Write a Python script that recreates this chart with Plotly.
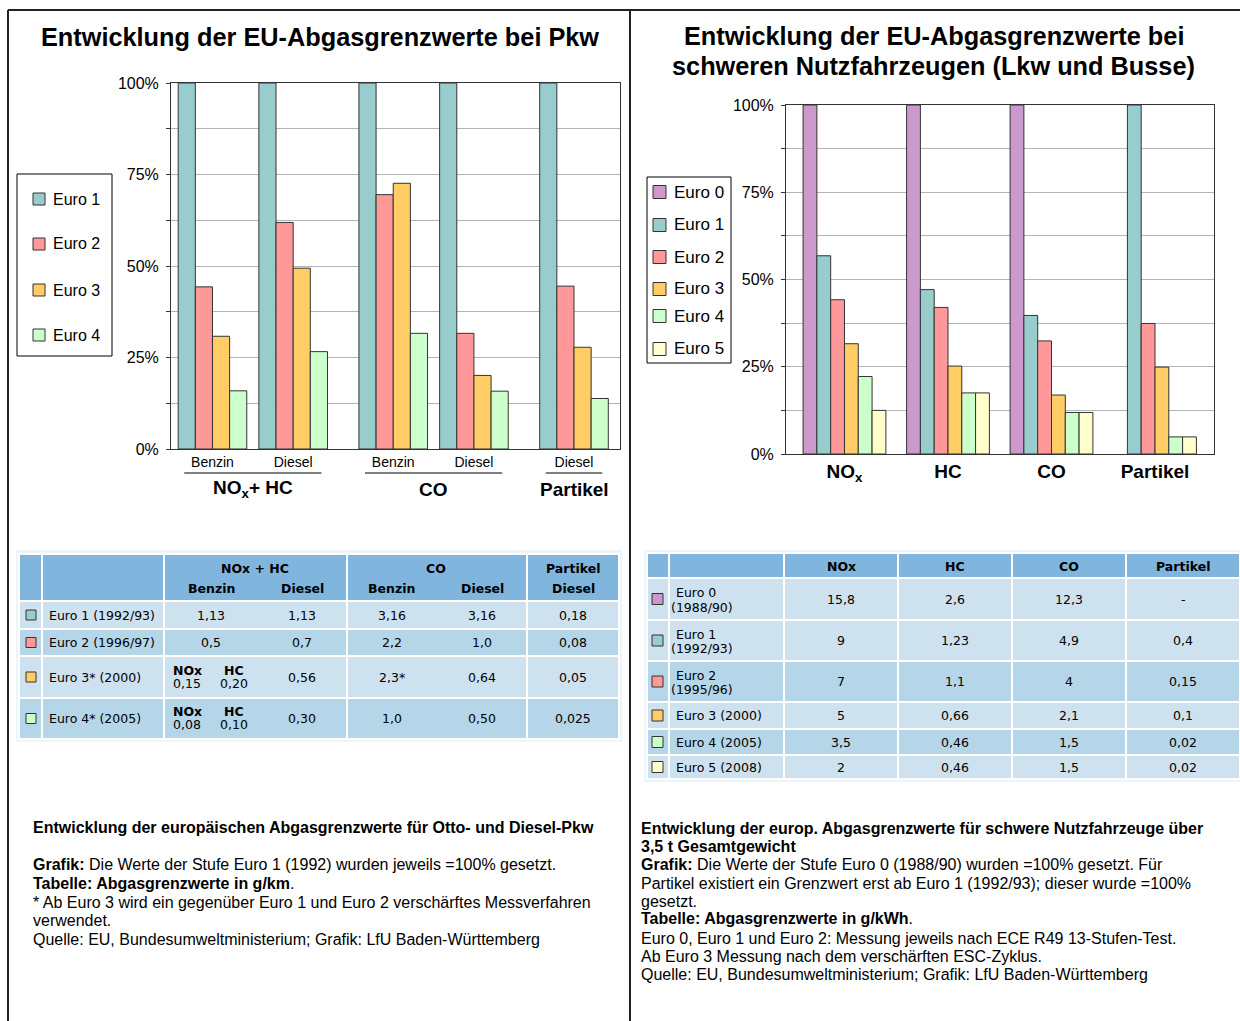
import plotly.graph_objects as go

W, H = 1240, 1021

# Pkw chart: limits in % of Euro 1
pkw_pollutants = ["NOx + HC", "NOx + HC", "CO", "CO", "Partikel"]
pkw_fuels = ["Benzin", "Diesel", "Benzin", "Diesel", "Diesel"]
pkw_group_labels = ["NO<sub>x</sub>+ HC", "CO", "Partikel"]
pkw_euro1 = [100, 100, 100, 100, 100]
pkw_euro2 = [44.3, 61.9, 69.5, 31.6, 44.5]
pkw_euro3 = [30.8, 49.4, 72.6, 20.1, 27.8]
pkw_euro4 = [15.9, 26.6, 31.6, 15.8, 13.8]

# Lkw chart: limits in % of Euro 0 (Partikel: of Euro 1)
lkw_pollutants = ["NOx", "HC", "CO", "Partikel"]
lkw_tick_labels = ["NO<sub>x</sub>", "HC", "CO", "Partikel"]
lkw_euro0 = [100, 100, 100, None]
lkw_euro1 = [56.8, 47.1, 39.7, 100]
lkw_euro2 = [44.2, 42.0, 32.4, 37.4]
lkw_euro3 = [31.6, 25.2, 16.9, 24.9]
lkw_euro4 = [22.2, 17.5, 11.9, 4.9]
lkw_euro5 = [12.5, 17.5, 11.9, 4.9]

# Pkw table (g/km)
pkw_tab_rows = ["Euro 1 (1992/93)", "Euro 2 (1996/97)", "Euro 3* (2000)", "Euro 4* (2005)"]
pkw_tab_stage = ["Euro 1", "Euro 2", "Euro 3", "Euro 4"]
pkw_tab_noxhc_benzin = ["1,13", "0,5", "", ""]
pkw_tab_nox_benzin = ["", "", "0,15", "0,08"]
pkw_tab_hc_benzin = ["", "", "0,20", "0,10"]
pkw_tab_noxhc_diesel = ["1,13", "0,7", "0,56", "0,30"]
pkw_tab_co_benzin = ["3,16", "2,2", "2,3*", "1,0"]
pkw_tab_co_diesel = ["3,16", "1,0", "0,64", "0,50"]
pkw_tab_pm_diesel = ["0,18", "0,08", "0,05", "0,025"]

# Lkw table (g/kWh)
lkw_tab_stage = ["Euro 0", "Euro 1", "Euro 2", "Euro 3", "Euro 4", "Euro 5"]
lkw_tab_years = ["(1988/90)", "(1992/93)", "(1995/96)", "(2000)", "(2005)", "(2008)"]
lkw_tab_nox = ["15,8", "9", "7", "5", "3,5", "2"]
lkw_tab_hc = ["2,6", "1,23", "1,1", "0,66", "0,46", "0,46"]
lkw_tab_co = ["12,3", "4,9", "4", "2,1", "1,5", "1,5"]
lkw_tab_pm = ["-", "0,4", "0,15", "0,1", "0,02", "0,02"]

left_notes = [
    "<b>Entwicklung der europäischen Abgasgrenzwerte für Otto- und Diesel-Pkw</b>",
    "",
    "<b>Grafik:</b> Die Werte der Stufe Euro 1 (1992) wurden jeweils =100% gesetzt.",
    "<b>Tabelle: Abgasgrenzwerte in g/km</b>.",
    "* Ab Euro 3 wird ein gegenüber Euro 1 und Euro 2 verschärftes Messverfahren",
    "verwendet.",
    "Quelle: EU, Bundesumweltministerium; Grafik: LfU Baden-Württemberg",
]
right_notes = [
    "<b>Entwicklung der europ. Abgasgrenzwerte für schwere Nutzfahrzeuge über</b>",
    "<b>3,5 t Gesamtgewicht</b>",
    "<b>Grafik:</b> Die Werte der Stufe Euro 0 (1988/90) wurden =100% gesetzt. Für",
    "Partikel existiert ein Grenzwert erst ab Euro 1 (1992/93); dieser wurde =100%",
    "gesetzt.",
    "<b>Tabelle: Abgasgrenzwerte in g/kWh</b>.",
    "Euro 0, Euro 1 und Euro 2: Messung jeweils nach ECE R49 13-Stufen-Test.",
    "Ab Euro 3 Messung nach dem verschärften ESC-Zyklus.",
    "Quelle: EU, Bundesumweltministerium; Grafik: LfU Baden-Württemberg",
]

colors = {"Euro 0": "#cc99cc", "Euro 1": "#99cccc", "Euro 2": "#ff9999",
          "Euro 3": "#ffcc66", "Euro 4": "#ccffcc", "Euro 5": "#ffffcc"}

SANS = "Liberation Sans, Arial, sans-serif"
TAB = "DejaVu Sans, Verdana, sans-serif"
HEAD_BG = "#80b6de"
ROW_LIGHT = "#cee1ee"
ROW_DARK = "#b5d5e9"
GRID = "#b4b4b4"


def px(x):
    return x / W


def py(y):
    return 1 - y / H


fig = go.Figure()
shapes = []
annos = []


def text(x, y, s, size=15, font=SANS, anchor="left", color="#000", weight=None):
    f = dict(family=font, size=size, color=color)
    if weight:
        f["weight"] = weight
    annos.append(dict(x=px(x), y=py(y), xref="paper", yref="paper", text=s,
                      showarrow=False, xanchor=anchor, yanchor="middle", font=f))


def rect(x0, y0, x1, y1, fill, line="#ffffff", lw=0):
    shapes.append(dict(type="rect", xref="paper", yref="paper",
                       x0=px(x0), x1=px(x1), y0=py(y1), y1=py(y0),
                       fillcolor=fill, line=dict(color=line, width=lw), layer="below"))


def add_bars(x, series, names, xa, ya, group_w):
    w = group_w / len(series)
    for k, (vals, name) in enumerate(zip(series, names)):
        fig.add_trace(go.Bar(
            x=x, y=vals, name=name, width=w, offset=-group_w / 2 + k * w,
            marker=dict(color=colors[name], line=dict(color="#333333", width=1)),
            xaxis=xa, yaxis=ya, showlegend=False))


# ---- left chart: groups get a small extra gap between pollutants
order = []
for p in pkw_pollutants:
    if p not in order:
        order.append(p)
pkw_x = [i + 0.24 * order.index(p) for i, p in enumerate(pkw_pollutants)]
add_bars(pkw_x, [pkw_euro1, pkw_euro2, pkw_euro3, pkw_euro4],
         ["Euro 1", "Euro 2", "Euro 3", "Euro 4"], "x", "y", 0.85)

# ---- right chart
add_bars(lkw_pollutants, [lkw_euro0, lkw_euro1, lkw_euro2, lkw_euro3, lkw_euro4, lkw_euro5],
         ["Euro 0", "Euro 1", "Euro 2", "Euro 3", "Euro 4", "Euro 5"], "x2", "y2", 0.80)

yax = dict(range=[0, 100], dtick=25, ticksuffix="%", showgrid=True, gridcolor=GRID,
           gridwidth=1, ticks="outside", ticklen=4, tickcolor="#333", ticklabelstandoff=4,
           showline=True, linecolor="#333", linewidth=1, mirror=True, zeroline=False,
           automargin=False, tickfont=dict(family=SANS, size=16, color="#000"),
           minor=dict(dtick=12.5, showgrid=True, gridcolor=GRID, ticks="outside",
                      ticklen=4, tickcolor="#333"))

fig.update_layout(
    xaxis=dict(domain=[px(171), px(620)], range=[-0.514, 5.05], tickvals=pkw_x,
               ticktext=pkw_fuels, ticks="", showline=True, linecolor="#333", mirror=True,
               showgrid=False, zeroline=False, ticklabelstandoff=0, automargin=False,
               tickfont=dict(family=SANS, size=14, color="#000")),
    yaxis=dict(domain=[py(449), py(83)], anchor="x", **yax),
    xaxis2=dict(domain=[px(786), px(1214)], type="category", categoryarray=lkw_pollutants,
                range=[-0.565, 3.57], tickvals=lkw_pollutants, ticktext=lkw_tick_labels,
                ticks="", showline=True, linecolor="#333", mirror=True, showgrid=False,
                ticklabelstandoff=0, anchor="y2", automargin=False,
                tickfont=dict(family=SANS, size=19, color="#000", weight="bold")),
    yaxis2=dict(domain=[py(454), py(105)], anchor="x2", **yax),
)

# group labels and underlines under the Pkw chart
for g, label in zip(order, pkw_group_labels):
    xs = [x for x, p in zip(pkw_x, pkw_pollutants) if p == g]
    shapes.append(dict(type="line", xref="x", yref="paper", x0=min(xs) - 0.35,
                       x1=max(xs) + 0.35, y0=py(473), y1=py(473),
                       line=dict(color="#000", width=1)))
    annos.append(dict(x=sum(xs) / len(xs), y=py(489), xref="x", yref="paper", text=label,
                      showarrow=False, xanchor="center", yanchor="middle",
                      font=dict(family=SANS, size=19, color="#000", weight="bold")))

# titles
text(320, 37, "Entwicklung der EU-Abgasgrenzwerte bei Pkw", 25.3, anchor="center", weight="bold")
text(934, 36, "Entwicklung der EU-Abgasgrenzwerte bei", 25.3, anchor="center", weight="bold")
text(934, 66, "schweren Nutzfahrzeugen (Lkw und Busse)", 25.3, anchor="center", weight="bold")

# legends
rect(17, 174, 112, 356, "#ffffff", "#000", 1)
for name, yy in zip(["Euro 1", "Euro 2", "Euro 3", "Euro 4"], [199, 244, 290, 335]):
    rect(33, yy - 6, 45, yy + 6, colors[name], "#333", 1)
    text(51, yy, name, 16)
rect(647, 177, 731, 363, "#ffffff", "#000", 1)
for name, yy in zip(["Euro 0", "Euro 1", "Euro 2", "Euro 3", "Euro 4", "Euro 5"],
                    [192, 225, 257, 289, 316, 349]):
    rect(653, yy - 6.5, 666, yy + 6.5, colors[name], "#333", 1)
    text(672, yy, name, 17)

# ---- Pkw table
rect(16, 550, 622, 742, "#eef5fa")
c = [19, 42, 164, 347, 527, 619]
r = [554, 601, 629, 656, 698, 739]
for i in range(len(c) - 1):
    rect(c[i], r[0], c[i + 1], r[1], HEAD_BG, "#ffffff", 2)
text(255, 568, "NOx + HC", 12.5, TAB, "center", weight="bold")
text(436, 568, "CO", 12.5, TAB, "center", weight="bold")
text(573, 568, "Partikel", 12.5, TAB, "center", weight="bold")
val_x = [211, 302, 392, 482, 573]
for xx, s in zip(val_x, pkw_fuels):
    text(xx, 588, s, 12.5, TAB, "center", weight="bold")
for j, stage in enumerate(pkw_tab_stage):
    fill = ROW_LIGHT if j % 2 == 0 else ROW_DARK
    for i in range(len(c) - 1):
        rect(c[i], r[j + 1], c[i + 1], r[j + 2], fill, "#ffffff", 2)
    yc = (r[j + 1] + r[j + 2]) / 2
    rect(26, yc - 5, 36, yc + 5, colors[stage], "#333", 1)
    text(47, yc, pkw_tab_rows[j], 12.5, TAB)
    if pkw_tab_noxhc_benzin[j]:
        text(val_x[0], yc, pkw_tab_noxhc_benzin[j], 12.5, TAB, "center")
    else:
        text(187, yc - 7, "NOx", 12.5, TAB, "center", weight="bold")
        text(234, yc - 7, "HC", 12.5, TAB, "center", weight="bold")
        text(187, yc + 6, pkw_tab_nox_benzin[j], 12.5, TAB, "center")
        text(234, yc + 6, pkw_tab_hc_benzin[j], 12.5, TAB, "center")
    for xx, col in zip(val_x[1:], [pkw_tab_noxhc_diesel, pkw_tab_co_benzin,
                                   pkw_tab_co_diesel, pkw_tab_pm_diesel]):
        text(xx, yc, col[j], 12.5, TAB, "center")

# ---- Lkw table
rect(644, 550, 1240, 782, "#eef5fa")
c2 = [647, 669, 784, 898, 1012, 1126, 1240]
r2 = [553, 578, 620, 661, 702, 729, 755, 779]
for i in range(len(c2) - 1):
    rect(c2[i], r2[0], c2[i + 1], r2[1], HEAD_BG, "#ffffff", 2)
val_x2 = [(c2[i] + c2[i + 1]) / 2 for i in range(2, 6)]
for xx, s in zip(val_x2, ["NOx", "HC", "CO", "Partikel"]):
    text(xx, 566, s, 12.5, TAB, "center", weight="bold")
row_fill = [ROW_LIGHT, ROW_LIGHT, ROW_DARK, ROW_LIGHT, ROW_DARK, ROW_LIGHT]
for j, stage in enumerate(lkw_tab_stage):
    for i in range(len(c2) - 1):
        rect(c2[i], r2[j + 1], c2[i + 1], r2[j + 2], row_fill[j], "#ffffff", 2)
    yc = (r2[j + 1] + r2[j + 2]) / 2
    rect(652, yc - 5.5, 663, yc + 5.5, colors[stage], "#333", 1)
    if r2[j + 2] - r2[j + 1] > 32:
        text(674, yc - 6.5, stage, 12.5, TAB)
        text(669, yc + 8, lkw_tab_years[j], 12.5, TAB)
    else:
        text(674, yc, stage + " " + lkw_tab_years[j], 12.5, TAB)
    for xx, col in zip(val_x2, [lkw_tab_nox, lkw_tab_hc, lkw_tab_co, lkw_tab_pm]):
        text(xx, yc, col[j], 12.5, TAB, "center")

# ---- notes
for s, yy in zip(left_notes, [827, 846, 864, 883, 902, 920, 939]):
    if s:
        text(31, yy, s, 16)
for s, yy in zip(right_notes, [828, 846, 864, 883, 901, 918, 938, 956, 974]):
    text(639, yy, s, 16)

# page frame
for x0, y0, x1, y1 in [(8, 10, 1240, 10), (8, 10, 8, 1021), (630, 10, 630, 1021)]:
    shapes.append(dict(type="line", xref="paper", yref="paper", x0=px(x0), x1=px(x1),
                       y0=py(y0), y1=py(y1), line=dict(color="#222", width=2)))

fig.update_layout(
    width=W, height=H, margin=dict(l=0, r=0, t=0, b=0, pad=0, autoexpand=False),
    paper_bgcolor="white", plot_bgcolor="white",
    barmode="overlay", showlegend=False,
    shapes=shapes, annotations=annos,
)

fig.write_html("out.html", config={"displayModeBar": False},
               post_script="document.body.style.margin='0';"
                           "document.body.style.overflow='hidden';")
